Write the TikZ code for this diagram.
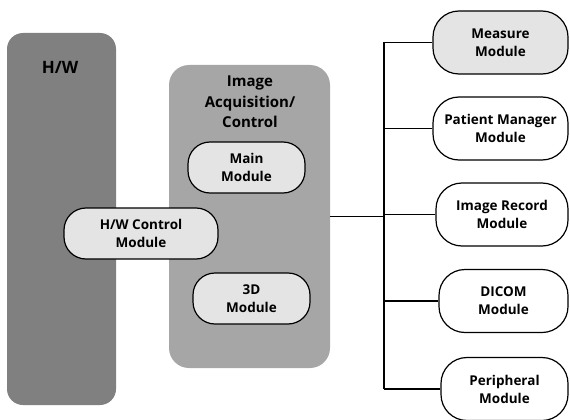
\documentclass[tikz,border=0pt]{standalone}
\usepackage{fontspec}
\setmainfont{Open Sans}
\usetikzlibrary{positioning}

\definecolor{hwgray}{HTML}{808080}
\definecolor{acqgray}{HTML}{A6A6A6}
\definecolor{modgray}{HTML}{E4E4E4}

\begin{document}
\begin{tikzpicture}[x=1pt, y=-1pt,
      font=\bfseries\fontsize{13.5}{18}\selectfont,
      layer/.style  = {rounded corners=16pt, inner sep=0pt},
      modbox/.style = {draw, line width=1.2pt, rounded corners=22pt,
                       minimum height=51pt, align=center, inner sep=1pt},
      side/.style   = {modbox, minimum height=63pt, rounded corners=26pt},
      bus/.style    = {line width=1.3pt},
    ]
    \useasboundingbox (0,0) rectangle (570,420);

    % hardware layer
    \node[layer, fill=hwgray, minimum width=109pt, minimum height=372pt] (hw) at (61.5,219) {};
    \node[font=\bfseries\fontsize{17}{20}\selectfont] (hwlbl) at (60,67) {H/W};

    % acquisition / control layer
    \node[layer, rounded corners=20pt, fill=acqgray, minimum width=161pt, minimum height=303pt] (acq) at (249.5,216.5) {};
    \node[align=center, font=\bfseries\fontsize{15}{20.5}\selectfont] (acqlbl) at (250,102) {Image\\Acquisition/\\Control};

    \node[modbox, fill=modgray, minimum width=117pt] (main) at (246.5,167.5) {Main\\Module};
    \node[modbox, fill=modgray, minimum width=117pt] (threed) at (251.5,298.5) {3D\\Module};
    \node[modbox, fill=modgray, minimum width=154pt] (hwc) at (141,233.5) {H/W Control\\Module};

    % application modules
    \node[side, fill=modgray, minimum width=135pt] (meas) at (500.5,42.5) {Measure\\Module};
    \node[side, fill=white, minimum width=135pt] (pat) at (500.5,128.5) {Patient Manager\\Module};
    \node[side, fill=white, minimum width=132pt] (rec) at (502,214.5) {Image Record\\Module};
    \node[side, fill=white, minimum width=129pt] (dicom) at (503.5,301) {DICOM\\Module};
    \node[side, fill=white, minimum width=127pt] (peri) at (504.5,389) {Peripheral\\Module};

    % bus
    \coordinate (bus) at (384,0);
    \draw[bus] (meas.west -| bus) -- (peri.west -| bus);
    \foreach \m in {meas,pat,rec,dicom,peri}
      \draw[bus] (\m.west) -- (\m.west -| bus);
    \draw[bus] (acq.east) -- (acq.east -| bus);
  \end{tikzpicture}
\end{document}
